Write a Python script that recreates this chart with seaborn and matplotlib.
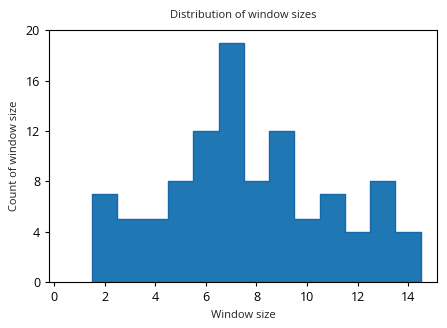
import numpy as np
import pandas as pd
import seaborn as sns
import matplotlib.pyplot as plt

sns.set_style("ticks")
plt.rcParams['font.family'] = ['Open Sans', 'DejaVu Sans']
plt.rcParams['text.color'] = '#222222'
plt.rcParams['axes.labelcolor'] = '#222222'
plt.rcParams['xtick.color'] = 'black'
plt.rcParams['ytick.color'] = 'black'
plt.rcParams['axes.edgecolor'] = 'black'

# Data
window_sizes = [2, 3, 4, 5, 6, 7, 8, 9, 10, 11, 12, 13, 14]
counts = [7, 5, 5, 8, 12, 19, 8, 12, 5, 7, 4, 8, 4]

df = pd.DataFrame({'size': window_sizes, 'count': counts})

fig, ax = plt.subplots(figsize=(4.47, 3.28), dpi=100)
sns.histplot(data=df, x='size', weights='count', binwidth=1, binrange=(1.5, 14.5),
             element='step', fill=True, color='#1f77b4', alpha=1,
             edgecolor='#1a66a8', linewidth=1, ax=ax)

ax.set_xlim(-0.2, 15.15)
ax.set_ylim(0, 20)
ax.set_xticks(range(0, 15, 2))
ax.set_yticks(range(0, 21, 4))
ax.tick_params(labelsize=9, length=3)
ax.set_title("Distribution of window sizes", fontsize=8, pad=9)
ax.set_xlabel("Window size", fontsize=8)
ax.set_ylabel("Count of window size", fontsize=8)
for s in ax.spines.values():
    s.set_linewidth(0.8)

plt.subplots_adjust(left=0.11, right=0.978, top=0.908, bottom=0.14)
plt.savefig("out.png", dpi=100)
